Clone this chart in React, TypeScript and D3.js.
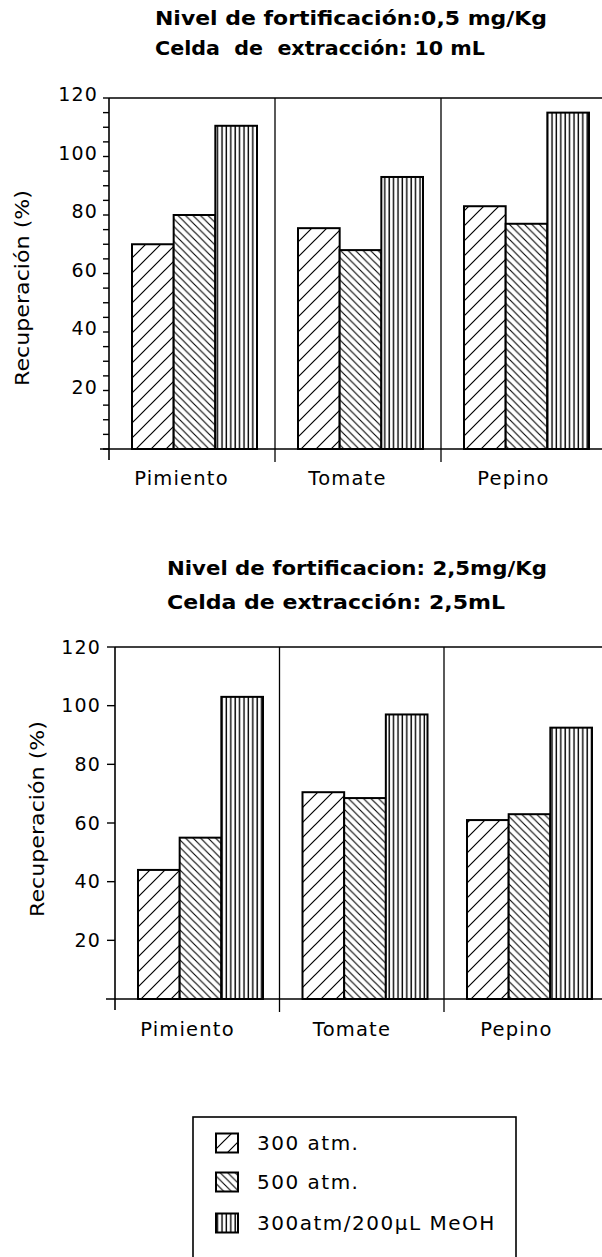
import React from "react";
import * as d3 from "d3";

const categories = ["Pimiento", "Tomate", "Pepino"];
const series = ["300 atm.", "500 atm.", "300atm/200µL MeOH"];

// upper panel: 0,5 mg/Kg, celda 10 mL
const upper300 = [70, 75.5, 83];
const upper500 = [80, 68, 77];
const upperMeOH = [110.5, 93, 115];

// lower panel: 2,5 mg/Kg, celda 2,5 mL
const lower300 = [44, 70.5, 61];
const lower500 = [55, 68.5, 63];
const lowerMeOH = [103, 97, 92.5];

const yLabels = [20, 40, 60, 80, 100, 120];

const FONT = "'DejaVu Sans', sans-serif";
const fills = ["url(#h300)", "url(#h500)", "url(#hmeoh)"];

type PanelProps = {
  titles: string[];
  titleLens: number[];
  titleX: number;
  titleY: number[];
  values: number[][];
  axisX: number;
  groupW: number;
  yTop: number;
  yBase: number;
  minorTicks: boolean;
  tickLen: number;
  tickLabelX: number;
  tickLabelDy: number;
  catY: number;
  yLabelX: number;
  yLabelY: number;
};

const Panel = (p: PanelProps) => {
  const x = d3
    .scaleBand<string>()
    .domain(categories)
    .range([p.axisX, p.axisX + 3 * p.groupW]);
  const inner = d3.scaleBand<string>().domain(series).range([23, 148]);
  const y = d3.scaleLinear().domain([0, 120]).range([p.yBase, p.yTop]);

  const ticks = p.minorTicks ? y.ticks(24) : yLabels;

  return (
    <g>
      {p.titles.map((t, i) => (
        <text
          key={t}
          x={p.titleX}
          y={p.titleY[i]}
          fontFamily={FONT}
          fontWeight="bold"
          fontSize={19}
          textLength={p.titleLens[i]}
          lengthAdjust="spacingAndGlyphs"
          style={{ whiteSpace: "pre" }}
        >
          {t}
        </text>
      ))}

      {/* bars */}
      {categories.map((c, i) =>
        series.map((s, j) => {
          const v = p.values[j][i];
          const bx = (x(c) ?? 0) + (inner(s) ?? 0);
          return (
            <g key={c + s}>
              <rect x={bx} y={y(v)} width={inner.bandwidth()} height={y(0) - y(v)} fill="#fff" />
              <rect
                x={bx}
                y={y(v)}
                width={inner.bandwidth()}
                height={y(0) - y(v)}
                fill={fills[j]}
                stroke="#000"
                strokeWidth={2}
              />
            </g>
          );
        })
      )}

      {/* frame */}
      <line x1={p.axisX} x2={602} y1={y(120)} y2={y(120)} stroke="#000" strokeWidth={1.6} />
      <line x1={p.axisX - 9} x2={602} y1={y(0)} y2={y(0)} stroke="#000" strokeWidth={1.6} />
      <line x1={p.axisX} x2={p.axisX} y1={y(120)} y2={y(0) + 11} stroke="#000" strokeWidth={1.6} />
      {categories.slice(1).map((c) => (
        <line
          key={c}
          x1={x(c)}
          x2={x(c)}
          y1={y(120)}
          y2={y(0) + 13}
          stroke="#000"
          strokeWidth={1.3}
        />
      ))}

      {/* y ticks */}
      {ticks.map((t) => (
        <line
          key={t}
          x1={p.axisX - p.tickLen}
          x2={p.axisX}
          y1={y(t)}
          y2={y(t)}
          stroke="#000"
          strokeWidth={1.4}
        />
      ))}
      {yLabels.map((t) => (
        <text
          key={t}
          x={p.tickLabelX}
          y={y(t) + p.tickLabelDy}
          textAnchor="end"
          fontFamily={FONT}
          fontSize={19}
          letterSpacing={1.2}
        >
          {t}
        </text>
      ))}

      <text
        transform={`translate(${p.yLabelX},${p.yLabelY}) rotate(-90)`}
        textAnchor="middle"
        fontFamily={FONT}
        fontSize={19}
        textLength={196}
        lengthAdjust="spacingAndGlyphs"
      >
        Recuperación (%)
      </text>

      {categories.map((c) => (
        <text
          key={c}
          x={(x(c) ?? 0) + 85.5 - 13}
          y={p.catY}
          textAnchor="middle"
          fontFamily={FONT}
          fontSize={19.5}
          letterSpacing={1.2}
        >
          {c}
        </text>
      ))}
    </g>
  );
};

export default function App() {
  const legendY = [1143, 1182, 1223];
  return (
    <div style={{ position: "absolute", left: 0, top: 0 }}>
      <svg width={602} height={1257} style={{ display: "block", background: "#fff" }}>
        <defs>
          <pattern id="h300" patternUnits="userSpaceOnUse" width={15} height={15}>
            <rect width={15} height={15} fill="#fff" />
            <path d="M0,15 L15,0 M-4,4 L4,-4 M11,19 L19,11" stroke="#000" strokeWidth={1.2} />
          </pattern>
          <pattern id="h500" patternUnits="userSpaceOnUse" width={7.5} height={7.5}>
            <rect width={7.5} height={7.5} fill="#fff" />
            <path d="M0,0 L7.5,7.5 M-2,5.5 L2,9.5 M5.5,-2 L9.5,2" stroke="#000" strokeWidth={1.1} />
          </pattern>
          <pattern id="hmeoh" patternUnits="userSpaceOnUse" width={4.4} height={10}>
            <rect width={4.4} height={10} fill="#fff" />
            <line x1={2} x2={2} y1={0} y2={10} stroke="#000" strokeWidth={1.4} />
          </pattern>
        </defs>

        <Panel
          titles={["Nivel de fortificación:0,5 mg/Kg", "Celda  de  extracción: 10 mL"]}
          titleLens={[392, 330]}
          titleX={155}
          titleY={[25, 55]}
          values={[upper300, upper500, upperMeOH]}
          axisX={109}
          groupW={166}
          yTop={98}
          yBase={449}
          minorTicks={true}
          tickLen={6}
          tickLabelX={98}
          tickLabelDy={3}
          catY={485}
          yLabelX={29}
          yLabelY={288}
        />
        <Panel
          titles={["Nivel de fortificacion: 2,5mg/Kg", "Celda de extracción: 2,5mL"]}
          titleLens={[380, 338]}
          titleX={167}
          titleY={[575, 609]}
          values={[lower300, lower500, lowerMeOH]}
          axisX={115}
          groupW={164.5}
          yTop={647}
          yBase={999}
          minorTicks={false}
          tickLen={8}
          tickLabelX={101}
          tickLabelDy={6.5}
          catY={1036}
          yLabelX={44}
          yLabelY={819}
        />

        {/* legend */}
        <rect x={193} y={1117} width={323} height={160} fill="none" stroke="#000" strokeWidth={1.6} />
        {series.map((s, j) => (
          <g key={s}>
            <rect
              x={216}
              y={legendY[j] - 9.5}
              width={22}
              height={19}
              fill={fills[j]}
              stroke="#000"
              strokeWidth={2}
            />
            <text
              x={257}
              y={legendY[j] + 7}
              fontFamily={FONT}
              fontSize={20}
              letterSpacing={1.5}
            >
              {s}
            </text>
          </g>
        ))}
      </svg>
    </div>
  );
}
